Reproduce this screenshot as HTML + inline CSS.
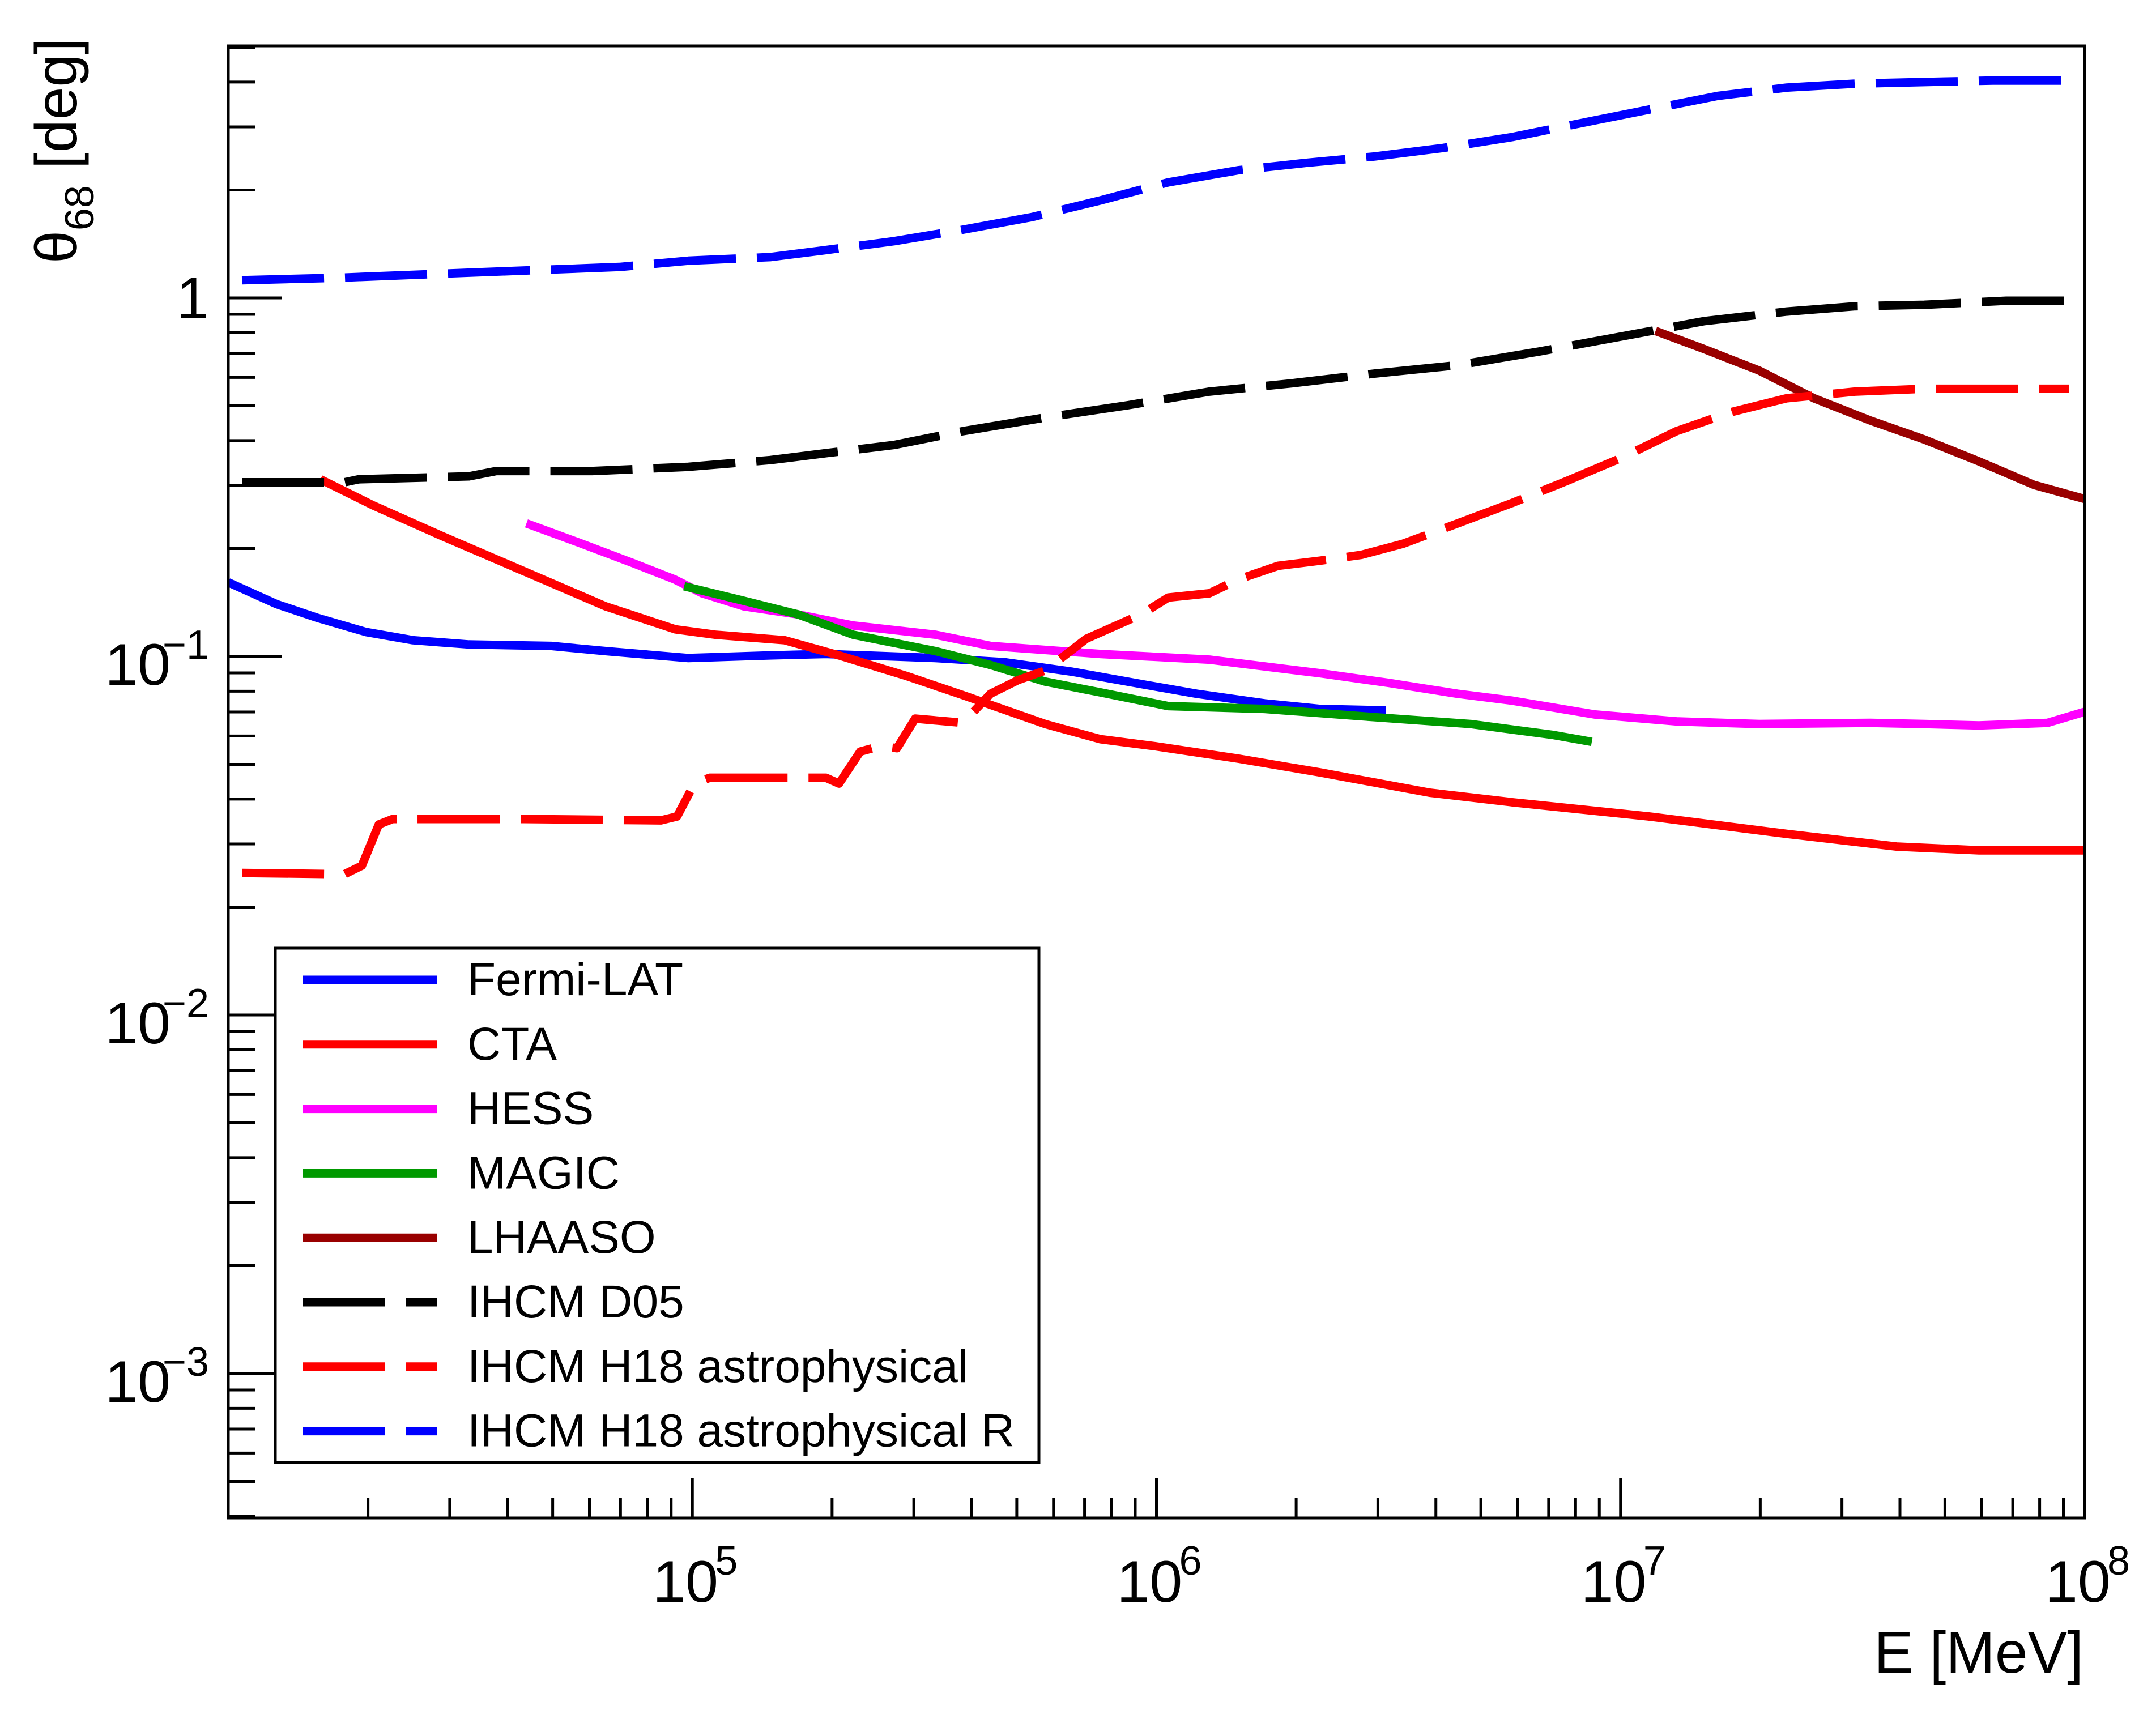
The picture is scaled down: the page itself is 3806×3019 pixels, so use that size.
<!DOCTYPE html>
<html><head><meta charset="utf-8"><style>
html,body{margin:0;padding:0;background:#fff;}
svg{display:block;font-family:"Liberation Sans",Arial,sans-serif;}
</style></head><body>
<svg id="chart" width="3806" height="3019" viewBox="0 0 3806 3019" xmlns="http://www.w3.org/2000/svg"></svg>
<script>
// ---- data ----
const fermiE = [1e4,1.27e4,1.56e4,1.98e4,2.5e4,3.3e4,4.96e4,6.5e4,9.8e4,1.47e5,1.94e5,3.34e5,4.7e5,6.6e5,9.3e5,1.22e6,1.71e6,2.25e6,3.12e6];
const fermiT = [0.161,0.140,0.128,0.117,0.111,0.108,0.107,0.1035,0.099,0.1007,0.1016,0.0990,0.0964,0.0906,0.0837,0.0787,0.0740,0.0714,0.0707];
const ctaE = [1.58e4,2.05e4,2.88e4,4.33e4,6.5e4,9.2e4,1.12e5,1.58e5,2.07e5,2.91e5,3.83e5,5.76e5,7.57e5,9.93e5,1.5e6,2.25e6,3.88e6,5.84e6,1.15e7,2.28e7,3.93e7,5.92e7,1e8];
const ctaT = [0.312,0.264,0.217,0.173,0.138,0.119,0.115,0.111,0.1007,0.088,0.078,0.0648,0.0588,0.0562,0.0519,0.0475,0.0417,0.0392,0.0358,0.032,0.0295,0.0288,0.0288];
const hessE = [4.39e4,5.68e4,7.46e4,9.16e4,1.05e5,1.29e5,1.69e5,2.22e5,3.34e5,4.39e5,7.57e5,1.3e6,2.25e6,3.16e6,4.45e6,5.84e6,8.79e6,1.32e7,1.99e7,3.44e7,4.51e7,5.92e7,8.32e7,1e8];
const hessT = [0.235,0.208,0.182,0.164,0.150,0.138,0.131,0.122,0.115,0.107,0.1016,0.098,0.0898,0.0844,0.0787,0.0753,0.0689,0.0659,0.0648,0.0653,0.0648,0.0642,0.0653,0.0701];
const magicE = [9.6e4,1.29e5,1.69e5,2.22e5,3.34e5,4.39e5,5.76e5,7.57e5,1.06e6,1.71e6,2.95e6,4.76e6,7.16e6,8.67e6];
const magicT = [0.157,0.143,0.131,0.115,0.1035,0.0947,0.0851,0.0794,0.0727,0.0714,0.0677,0.0648,0.0604,0.0578];
const lhaasoE = [1.19e7,1.51e7,1.99e7,2.61e7,3.44e7,4.51e7,5.92e7,7.78e7,1e8];
const lhaasoT = [0.809,0.721,0.627,0.525,0.456,0.403,0.350,0.301,0.275];
const d05E = [1.07e4,1.78e4,1.91e4,3.3e4,3.78e4,6.08e4,9.8e4,1.47e5,1.94e5,2.72e5,3.83e5,5.76e5,8.67e5,1.3e6,1.96e6,2.95e6,4.45e6,6.69e6,1.01e7,1.51e7,2.28e7,3.2e7,4.51e7,6.78e7,9.27e7];
const d05T = [0.306,0.306,0.312,0.318,0.329,0.329,0.338,0.353,0.369,0.389,0.425,0.464,0.502,0.548,0.578,0.615,0.649,0.709,0.782,0.861,0.916,0.948,0.957,0.982,0.982];
const h18E = [1.07e4,1.78e4,1.94e4,2.11e4,2.26e4,4.33e4,8.55e4,9.27e4,1.01e5,1.09e5,1.94e5,2.07e5,2.3e5,2.54e5,2.76e5,3.02e5,3.83e5,4.39e5,5.03e5,5.76e5,7.06e5,9.27e5,1.06e6,1.3e6,1.5e6,1.83e6,2.25e6,2.76e6,3.39e6,4.15e6,5.84e6,7.67e6,1.01e7,1.32e7,1.74e7,2.28e7,3.2e7,4.51e7,6.34e7,9.27e7];
const h18T = [0.0249,0.0247,0.0261,0.034,0.0352,0.0352,0.0349,0.0358,0.0442,0.0459,0.0459,0.0442,0.0543,0.0562,0.0555,0.0671,0.0653,0.0787,0.0859,0.0914,0.112,0.131,0.146,0.150,0.164,0.179,0.185,0.192,0.206,0.227,0.268,0.309,0.359,0.425,0.481,0.525,0.548,0.558,0.558,0.558];
const h18rE = [1.07e4,1.78e4,2.5e4,3.52e4,4.96e4,6.97e4,9.8e4,1.47e5,1.94e5,2.72e5,3.83e5,5.38e5,7.57e5,1.06e6,1.5e6,2.1e6,2.95e6,4.15e6,5.84e6,8.2e6,1.15e7,1.62e7,2.28e7,3.2e7,4.51e7,6.34e7,9.27e7];
const h18rT = [1.12,1.14,1.16,1.18,1.20,1.22,1.27,1.30,1.36,1.44,1.55,1.68,1.87,2.10,2.27,2.38,2.48,2.62,2.81,3.07,3.35,3.66,3.86,3.96,4.00,4.04,4.04];
const seriesNames = ["Fermi-LAT","CTA","HESS","MAGIC","LHAASO","IHCM D05","IHCM H18 astrophysical","IHCM H18 astrophysical R"];
const xTickExps = [5,6,7,8];
const yTickExps = [-3,-2,-1,0];

// ---- axes ----
const X0=403, X1=3680, Y0=2680, Y1=81;
const xMinL=4, xMaxL=8;
const yOneY=526, yDec=633;
function xs(e){return X0+(Math.log10(e)-xMinL)/(xMaxL-xMinL)*(X1-X0);}
function ys(t){return yOneY-Math.log10(t)*yDec;}
const yMinV=Math.pow(10,(yOneY-Y0)/yDec), yMaxV=Math.pow(10,(yOneY-Y1)/yDec);

const NS="http://www.w3.org/2000/svg";
const svg=document.getElementById('chart');
function mk(tag,attrs,parent){const el=document.createElementNS(NS,tag);for(const k in attrs)el.setAttribute(k,attrs[k]);(parent||svg).appendChild(el);return el;}

const clip=mk('clipPath',{id:'pc'});
mk('rect',{x:X0,y:Y1,width:X1-X0,height:Y0-Y1},clip);

// series
const gS=mk('g',{'clip-path':'url(#pc)'});


const defs=[
 [fermiE,fermiT,'#0000ff',null,'fermi-lat-line'],
 [ctaE,ctaT,'#ff0000',null,'cta-line'],
 [hessE,hessT,'#ff00ff',null,'hess-line'],
 [magicE,magicT,'#009900',null,'magic-line'],
 [lhaasoE,lhaasoT,'#990000',null,'lhaaso-line'],
 [d05E,d05T,'#000000','145 37','ihcm-d05-line'],
 [h18E,h18T,'#ff0000','145 37','ihcm-h18-line'],
 [h18rE,h18rT,'#0000ff','145 37','ihcm-h18-r-line']];
defs.forEach(d=>{
  const pts=d[0].map((e,i)=>xs(e).toFixed(1)+','+ys(d[1][i]).toFixed(1)).join(' ');
  const a={points:pts,fill:'none',stroke:d[2],'stroke-width':15,'stroke-linejoin':'round'};
  if(d[3])a['stroke-dasharray']=d[3];
  const p=mk('polyline',a,gS);
  
  
});

// frame
const fr=mk('rect',{x:X0,y:Y1,width:X1-X0,height:Y0-Y1,fill:'none',stroke:'#000','stroke-width':5});



// x ticks
for(let k=4;k<=8;k++){for(let m=1;m<=9;m++){const v=m*Math.pow(10,k);if(v>1e8+1)break;
  const x=xs(v);const len=(m===1)?70:35;
  const t=mk('line',{x1:x,x2:x,y1:Y0,y2:Y0-len,stroke:'#000','stroke-width':5});
  
  
}}
xTickExps.forEach(e=>{
  const x=xs(Math.pow(10,e));
  const t=mk('text',{x:x-70,y:2828,'font-size':104,fill:'#000'});
  t.textContent='10';
  
  
  const s=mk('text',{x:x+40,y:2780,'font-size':72,fill:'#000'});
  s.textContent=String(e);
  
  
});
// y ticks
for(let k=-4;k<=0;k++){for(let m=1;m<=9;m++){const v=m*Math.pow(10,k);
  if(v<yMinV||v>yMaxV)continue;const y=ys(v);const len=(m===1)?95:47;
  const t=mk('line',{x1:X0,x2:X0+len,y1:y,y2:y,stroke:'#000','stroke-width':5});
  
  
}}
yTickExps.forEach(e=>{
  const y=ys(Math.pow(10,e));
  if(e===0){
    const t=mk('text',{x:369,y:y+36,'font-size':104,'text-anchor':'end',fill:'#000'});
    t.textContent='1';
    
    
  } else {
    const t=mk('text',{x:301,y:y+50,'font-size':104,'text-anchor':'end',fill:'#000'});
    t.textContent='10';
    
    
    const s=mk('text',{x:369,y:y+4,'font-size':72,'text-anchor':'end',fill:'#000'});
    s.textContent='\u2212'+String(-e);
    
    
  }
});
// axis titles
const xt=mk('text',{x:3678,y:2953,'font-size':104,'text-anchor':'end',fill:'#000'});
xt.textContent='E [MeV]';


const yt=mk('text',{transform:'translate(135,465) rotate(-90)','font-size':104,fill:'#000'});
yt.innerHTML='θ<tspan font-size="72" dy="30">68</tspan><tspan dy="-30"> [deg]</tspan>';



// legend
const lg=mk('g',{});


const lb=mk('rect',{x:486,y:1674,width:1348,height:908,fill:'#fff',stroke:'#000','stroke-width':5},lg);


defs.forEach((d,i)=>{
  const y=1730+i*113.8;
  const a={x1:535,x2:771,y1:y,y2:y,stroke:d[2],'stroke-width':15};
  if(d[3])a['stroke-dasharray']=d[3];
  const l=mk('line',a,lg);
  
  
  const t=mk('text',{x:825,y:y+27,'font-size':82,fill:'#000'},lg);
  t.textContent=seriesNames[i];
  
  
});
</script>
</body></html>
